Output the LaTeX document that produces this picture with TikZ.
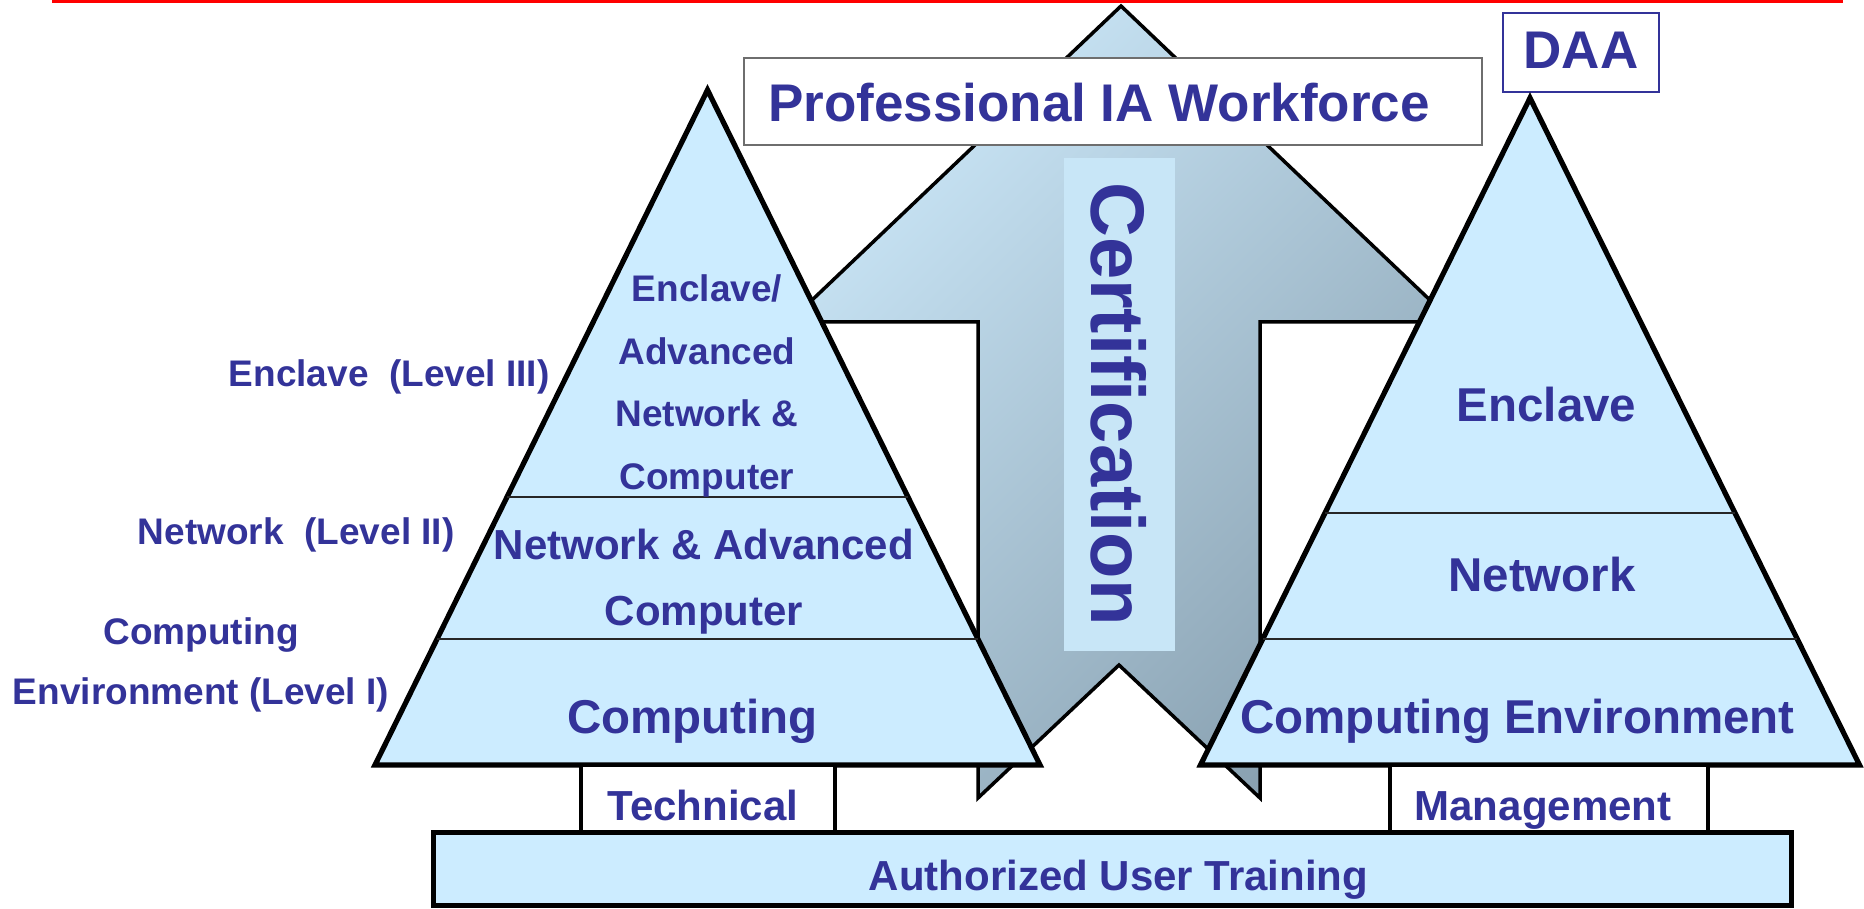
\documentclass[tikz,border=0pt]{standalone}
\usepackage{fontspec}
\setmainfont{Liberation Sans}
\usetikzlibrary{calc}

\definecolor{iablue}{RGB}{51,51,153}
\definecolor{tierfill}{RGB}{204,236,255}
\definecolor{certtop}{RGB}{202,230,247}
\definecolor{certbot}{RGB}{138,162,178}
\definecolor{certstrip}{RGB}{200,230,247}
\definecolor{boxgray}{RGB}{110,110,110}

\begin{document}
\begin{tikzpicture}[x=0.5pt,y=0.5pt,yscale=-1,xscale=1,
  tier/.style={fill=tierfill,draw=black,line width=2.6pt},
  tierline/.style={draw=black!85,line width=1pt},
  stand/.style={fill=white,draw=black,line width=2pt},
  certarrow/.style={draw=black,line width=1.75pt,top color=certtop,bottom color=certbot,shading angle=45},
  lbl/.style={text=iablue,inner sep=0pt},
  titlefont/.style={font=\fontsize{26.5}{30}\selectfont\bfseries},
  certfont/.style={font=\fontsize{38}{44}\selectfont\bfseries},
  tierfont/.style={font=\fontsize{23.75}{28}\selectfont\bfseries},
  midfont/.style={font=\fontsize{21}{33.2}\selectfont\bfseries},
  topfont/.style={font=\fontsize{18.5}{31.25}\selectfont\bfseries},
  sidefont/.style={font=\fontsize{18.5}{30}\selectfont\bfseries}]
\useasboundingbox (0,0) rectangle (1864,909);

%Red rule
\fill[red] (52,0) rectangle (1843,3.5);

%Arrow: Certification
\draw[certarrow] (1121,6) -- (1453,322) -- (1260,322) -- (1260,798) -- (1119,665) -- (978,798) -- (978,322) -- (789,322) -- cycle ;
\fill[certstrip] (1064,158) rectangle (1174.5,651);

%Title boxes
\draw[fill=white,draw=boxgray,line width=1pt] (744,58) rectangle (1482,145);
\draw[fill=white,draw=iablue,line width=1pt] (1503,13) rectangle (1659,92);

%Triangle: Technical
\coordinate (la) at (707.5,90);
\coordinate (lb) at (375,765);
\coordinate (lc) at (1040,765);
\draw[tier] (la) -- (lb) -- (lc) -- cycle ;
\draw[tierline] ($(la)!0.603!(lb)$) -- ($(la)!0.603!(lc)$);
\draw[tierline] ($(la)!0.813!(lb)$) -- ($(la)!0.813!(lc)$);

%Triangle: Management
\coordinate (ra) at (1530,98);
\coordinate (rb) at (1200.5,765);
\coordinate (rc) at (1859.5,765);
\draw[tier] (ra) -- (rb) -- (rc) -- cycle ;
\draw[tierline] ($(ra)!0.622!(rb)$) -- ($(ra)!0.622!(rc)$);
\draw[tierline] ($(ra)!0.8106!(rb)$) -- ($(ra)!0.8106!(rc)$);

%Stands and base
\draw[stand] (581,765) rectangle (835,832);
\draw[stand] (1390,765) rectangle (1708,832);
\draw[fill=tierfill,draw=black,line width=2.5pt] (433,832) rectangle (1791,905.5);

% Text Node
\draw (1099,122) node (prof) [lbl,titlefont,anchor=base] {Professional IA Workforce};
% Text Node
\draw (1581,69) node (daa) [lbl,titlefont,anchor=base] {DAA};
% Text Node
\draw (1118.7,404) node (cert) [lbl,certfont,rotate=-90] {Certification};
% Text Node
\draw (707,385.7) node (lenclave) [lbl,topfont,align=center] {Enclave/\\Advanced\\Network \&\\Computer};
% Text Node
\draw (704,581.6) node (lnetwork) [lbl,midfont,align=center] {Network \& Advanced\\Computer};
% Text Node
\draw (692.6,733.3) node (lcomputing) [lbl,tierfont,anchor=base] {Computing};
% Text Node
\draw (1546.5,421.7) node (renclave) [lbl,tierfont,anchor=base] {Enclave};
% Text Node
\draw (1542,591.7) node (rnetwork) [lbl,tierfont,anchor=base] {Network};
% Text Node
\draw (1517.5,733.3) node (rcomputing) [lbl,tierfont,anchor=base] {Computing Environment};
% Text Node
\draw (703,820.7) node (technical) [lbl,midfont,anchor=base] {Technical};
% Text Node
\draw (1543,820.7) node (management) [lbl,midfont,anchor=base] {Management};
% Text Node
\draw (1118.5,890) node (training) [lbl,midfont,anchor=base] {Authorized User Training};
% Text Node
\draw (550,386.7) node (lvlthree) [lbl,sidefont,anchor=base east] {Enclave\ \ (Level III)};
% Text Node
\draw (455,544.3) node (lvltwo) [lbl,sidefont,anchor=base east] {Network\ \ (Level II)};
% Text Node
\draw (201,665.4) node (lvlone) [lbl,sidefont,align=center] {Computing\\Environment (Level I)};

\end{tikzpicture}
\end{document}
